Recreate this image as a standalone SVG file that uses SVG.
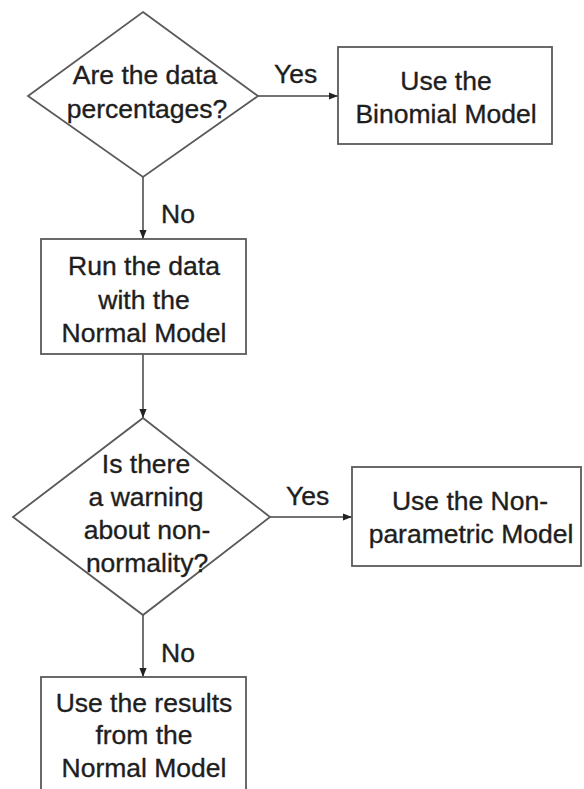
<svg xmlns="http://www.w3.org/2000/svg" width="584" height="789" viewBox="0 0 584 789">
<defs>
<style>
.shape{fill:#fff;stroke:#5a5a5a;stroke-width:1.8}
.conn{fill:none;stroke:#444;stroke-width:1.5}
text{font-family:"Liberation Sans",Arial,sans-serif;font-size:26.5px;fill:#1e1e1e;stroke:#1e1e1e;stroke-width:0.35;text-anchor:middle}
.lbl{text-anchor:start}
</style>
<marker id="ah" viewBox="0 0 10 10" refX="10" refY="5" markerWidth="9" markerHeight="9" markerUnits="userSpaceOnUse" orient="auto">
<path d="M0,1 L10,5 L0,9 Z" fill="#222"/>
</marker>
</defs>
<rect width="584" height="789" fill="#fff"/>
<g id="connectors">
<line class="conn" x1="258" y1="96" x2="338" y2="96" marker-end="url(#ah)"/>
<line class="conn" x1="143" y1="177" x2="143" y2="239" marker-end="url(#ah)"/>
<line class="conn" x1="143" y1="354" x2="143" y2="418" marker-end="url(#ah)"/>
<line class="conn" x1="270" y1="517" x2="352" y2="517" marker-end="url(#ah)"/>
<line class="conn" x1="143" y1="615" x2="143" y2="677" marker-end="url(#ah)"/>
<text class="lbl" x="274" y="83">Yes</text>
<text class="lbl" x="161" y="223">No</text>
<text class="lbl" x="286" y="505">Yes</text>
<text class="lbl" x="161" y="662">No</text>
</g>
<g id="d1">
<polygon class="shape" points="143,12 258,96 143,177 28,96"/>
<text x="145" y="84">Are the data</text>
<text x="147" y="118">percentages?</text>
</g>
<g id="b1">
<rect class="shape" x="338" y="47" width="214" height="97"/>
<text x="446" y="90">Use the</text>
<text x="446" y="123">Binomial Model</text>
</g>
<g id="b2">
<rect class="shape" x="41" y="239" width="205" height="115"/>
<text x="144" y="275">Run the data</text>
<text x="144" y="309">with the</text>
<text x="144" y="342">Normal Model</text>
</g>
<g id="d2">
<polygon class="shape" points="143,418 270,517 143,615 13,517"/>
<text x="146" y="473">Is there</text>
<text x="146" y="506">a warning</text>
<text x="147" y="539">about non-</text>
<text x="147" y="572">normality?</text>
</g>
<g id="b3">
<rect class="shape" x="352" y="467" width="229" height="99"/>
<text x="470" y="510">Use the Non-</text>
<text x="471" y="543">parametric Model</text>
</g>
<g id="b4">
<rect class="shape" x="41" y="677" width="205" height="130"/>
<text x="144" y="712">Use the results</text>
<text x="144" y="744">from the</text>
<text x="144" y="777">Normal Model</text>
</g>
</svg>
